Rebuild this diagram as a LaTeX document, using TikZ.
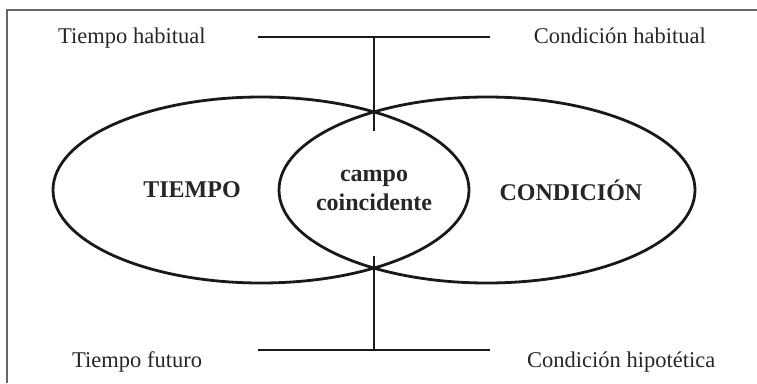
\documentclass[tikz,border=0pt]{standalone}
\usepackage{fontspec}
\setmainfont{Liberation Serif}
\usetikzlibrary{shapes.geometric}
\begin{document}
\begin{tikzpicture}[x=1pt,y=-1pt,
  set/.style={draw=black!90,line width=2.8pt,ellipse,minimum width=416pt,minimum height=186pt,inner sep=0pt},
  lab/.style={font=\fontsize{22.5}{27}\selectfont,inner sep=0pt,text=black!85},
  big/.style={font=\fontsize{24}{29}\selectfont\bfseries,inner sep=0pt,text=black!85,align=center},
  conn/.style={draw=black!90,line width=2.8pt},
  frame/.style={draw=black!60,line width=2pt}]
\useasboundingbox (0,0) rectangle (757,383);
% frame (only top and left edges visible)
\draw[frame] (7,383) -- (7,10) -- (757,10);
% sets
\node[set] (tiempo) at (261,190) {};
\node[set] (condicion) at (487,190) {};
\node[big] (tlab) at (192,190) {TIEMPO};
\node[big] (clab) at (571,190) {CONDICIÓN};
\node[big] (campo) at (374,190) {campo\\coincidente};
% scale labels
\node[lab,anchor=base west] (th) at (58,43) {Tiempo habitual};
\node[lab,anchor=base east] (ch) at (706,43) {Condición habitual};
\node[lab,anchor=base west] (tf) at (72,367) {Tiempo futuro};
\node[lab,anchor=base west] (chp) at (527,367) {Condición hipotética};
% connectors
\coordinate (tl) at (258,37);
\coordinate (tr) at (490,37);
\coordinate (tm) at (374,37);
\coordinate (tend) at (374,131);
\coordinate (bl) at (258,350);
\coordinate (br) at (490,350);
\coordinate (bm) at (374,350);
\coordinate (bend) at (374,256);
\draw[conn] (tl) -- (tr);
\draw[conn] (tm) -- (tend);
\draw[conn] (bl) -- (br);
\draw[conn] (bm) -- (bend);
\end{tikzpicture}
\end{document}
